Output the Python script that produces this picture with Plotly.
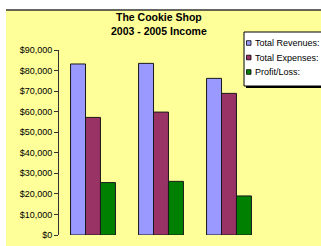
import plotly.graph_objects as go

years = ["2003", "2004", "2005"]
revenues = [83200, 83500, 76200]
expenses = [57200, 59800, 68900]
profit = [25500, 26100, 19000]
series_names = ["Total Revenues:", "Total Expenses:", "Profit/Loss:"]
series_colors = ["#9999FF", "#993366", "#008000"]
title_lines = ["The Cookie Shop", "2003 - 2005 Income"]

W, H = 321, 246
ML, MR, MT, MB = 59, 58, 50, 11
PW = W - ML - MR
PH = H - MT - MB

def px(x):
    return (x - ML) / PW

def py(y):
    return (H - MB - y) / PH

fig = go.Figure()
for name, vals, col in zip(series_names, [revenues, expenses, profit], series_colors):
    fig.add_trace(go.Bar(x=years, y=vals, name=name, marker=dict(color=col, line=dict(color="#1a1a1a", width=1))))

shapes = [
    dict(type="rect", xref="paper", yref="paper", x0=px(6), x1=px(330), y0=py(10), y1=py(260),
         fillcolor="#FFFF99", line=dict(width=0), layer="below"),
    dict(type="line", xref="paper", yref="paper", x0=px(6), x1=px(330), y0=py(10), y1=py(10),
         line=dict(color="#333333", width=1.5), layer="below"),
    # legend box shadow
    dict(type="rect", xref="paper", yref="paper", x0=px(246), x1=px(340), y0=py(34), y1=py(88),
         fillcolor="#000000", line=dict(width=0), layer="above"),
    dict(type="rect", xref="paper", yref="paper", x0=px(244), x1=px(340), y0=py(32), y1=py(86),
         fillcolor="#FFFFFF", line=dict(color="#000000", width=1), layer="above"),
]
annotations = []
rows = [43, 57.5, 72]
for name, col, ry in zip(series_names, series_colors, rows):
    shapes.append(dict(type="rect", xref="paper", yref="paper", x0=px(246.5), x1=px(251), y0=py(ry - 2.3), y1=py(ry + 2.3),
                       fillcolor=col, line=dict(color="#000000", width=0.8), layer="above"))
    annotations.append(dict(text=name, xref="paper", yref="paper", x=px(252.5), y=py(ry), xanchor="left", yanchor="middle",
                            showarrow=False, font=dict(family="Arial, Liberation Sans", size=9, color="#000000")))
for line, ty in zip(title_lines, [16.7, 31.5]):
    annotations.append(dict(text="<b>" + line + "</b>", xref="paper", yref="paper", x=px(159), y=py(ty),
                            xanchor="center", yanchor="middle", showarrow=False,
                            font=dict(family="Arial, Liberation Sans", size=10.5, color="#000000")))

fig.update_layout(
    width=W, height=H,
    margin=dict(l=ML, r=MR, t=MT, b=MB, pad=0),
    paper_bgcolor="#FFFFFF",
    plot_bgcolor="#FFFF99",
    barmode="group",
    bargap=0.34,
    bargroupgap=0,
    showlegend=False,
    shapes=shapes,
    annotations=annotations,
    font=dict(family="Arial, Liberation Sans", size=9, color="#000000"),
    xaxis=dict(showline=False, showgrid=False, zeroline=False, ticks="", ticklabelstandoff=8,
               tickfont=dict(size=9), automargin=False),
    yaxis=dict(range=[0, 90000], dtick=10000, tickprefix="$", tickformat=",", showgrid=False, zeroline=False,
               showline=True, linecolor="#333333", linewidth=1, ticks="outside", ticklen=4, tickcolor="#333333",
               tickfont=dict(size=9), automargin=False),
)

fig.write_html("out.html",
               config={"displayModeBar": False},
               post_script="document.body.style.margin='0';document.body.style.overflow='hidden';"
                           "document.documentElement.style.overflow='hidden';")
